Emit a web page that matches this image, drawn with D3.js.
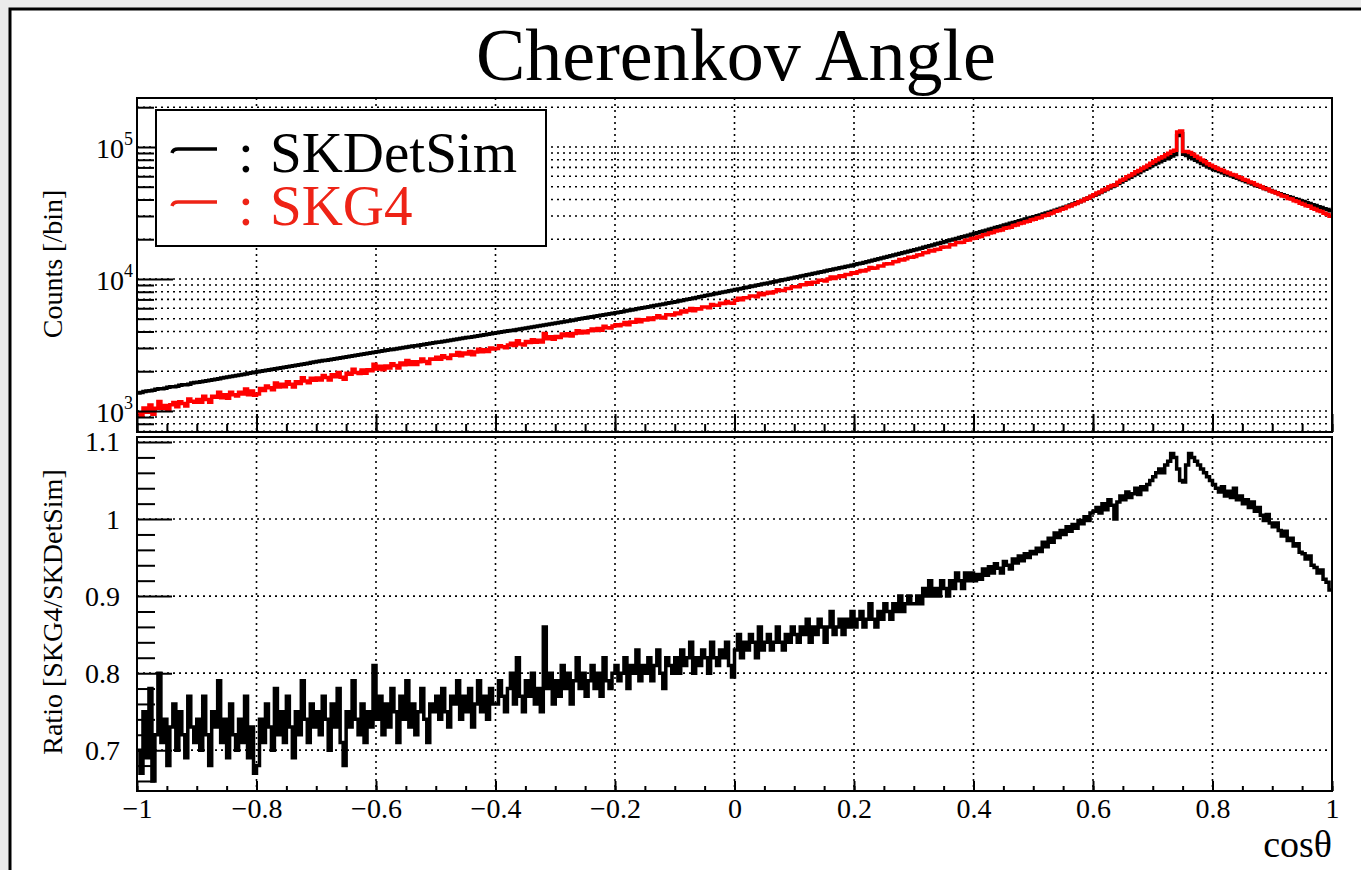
<!DOCTYPE html>
<html>
<head>
<meta charset="utf-8">
<script src="https://cdn.jsdelivr.net/npm/d3@7"></script>
<style>
  body { margin: 0; background: #ebebeb; }
  svg { display: block; }
  text { font-family: "Liberation Serif", "Times New Roman", serif; }
</style>
</head>
<body>
<svg id="chart" width="1361" height="870"></svg>
<script>
// 400 bins in cos(theta), from -1 to 1
const binLow = -1, binWidth = 0.005;

// SKDetSim counts per bin
const skdetsim = [
  1369, 1381, 1404, 1416, 1422, 1434, 1459, 1473, 1473, 1487, 1513, 1527, 1525, 1539, 1568, 1582, 1583, 1597, 1626, 1640,
  1649, 1663, 1679, 1695, 1710, 1726, 1742, 1758, 1774, 1790, 1807, 1823, 1841, 1857, 1875, 1891, 1909, 1927, 1945, 1963,
  1981, 1999, 2017, 2035, 2053, 2071, 2090, 2108, 2127, 2147, 2165, 2185, 2204, 2224, 2244, 2264, 2284, 2304, 2325, 2345,
  2366, 2386, 2407, 2427, 2448, 2470, 2491, 2513, 2535, 2557, 2579, 2601, 2624, 2646, 2669, 2693, 2716, 2740, 2763, 2787,
  2810, 2834, 2857, 2881, 2904, 2928, 2952, 2976, 3001, 3025, 3050, 3076, 3100, 3126, 3152, 3178, 3204, 3230, 3257, 3283,
  3309, 3337, 3365, 3393, 3421, 3449, 3479, 3507, 3536, 3566, 3595, 3625, 3656, 3686, 3717, 3747, 3778, 3810, 3842, 3874,
  3907, 3941, 3975, 4009, 4045, 4079, 4114, 4150, 4186, 4222, 4259, 4295, 4333, 4371, 4409, 4447, 4486, 4524, 4563, 4603,
  4645, 4687, 4728, 4770, 4812, 4856, 4899, 4943, 4986, 5032, 5076, 5122, 5167, 5213, 5259, 5307, 5354, 5402, 5449, 5499,
  5548, 5602, 5657, 5711, 5767, 5823, 5880, 5936, 5994, 6052, 6110, 6170, 6230, 6290, 6351, 6413, 6476, 6538, 6602, 6666,
  6735, 6805, 6878, 6950, 7023, 7097, 7172, 7248, 7325, 7401, 7480, 7558, 7638, 7718, 7800, 7882, 7965, 8049, 8134, 8220,
  8306, 8394, 8485, 8575, 8668, 8760, 8855, 8949, 9046, 9142, 9241, 9339, 9441, 9541, 9645, 9747, 9853, 9957, 10065, 10173,
  10290, 10404, 10520, 10636, 10755, 10873, 10994, 11116, 11240, 11364, 11490, 11618, 11747, 11877, 12009, 12141, 12277, 12413, 12551, 12689,
  12845, 13013, 13181, 13353, 13525, 13701, 13877, 14059, 14240, 14426, 14611, 14803, 14993, 15189, 15384, 15586, 15786, 15992, 16198, 16410,
  16638, 16876, 17116, 17360, 17607, 17859, 18112, 18372, 18632, 18898, 19167, 19441, 19717, 19999, 20283, 20573, 20865, 21163, 21464, 21770,
  22092, 22422, 22757, 23097, 23442, 23792, 24148, 24508, 24875, 25245, 25623, 26005, 26394, 26788, 27188, 27594, 28007, 28425, 28850, 29280,
  29627, 30088, 30556, 31039, 31536, 32049, 32578, 33123, 33685, 34264, 34901, 35566, 36261, 36983, 37740, 38531, 39355, 40217, 41115, 42054,
  43063, 44116, 45214, 46361, 47561, 48812, 50119, 51475, 52880, 54335, 55857, 57424, 59033, 60687, 62387, 64135, 65932, 67780, 69679, 71631,
  73536, 75456, 77410, 79393, 81407, 83456, 85507, 87498, 122000, 126000, 88000, 86200, 83700, 81500, 79200, 77100, 74900, 73000, 70800, 69150,
  67700, 66270, 65120, 63720, 62610, 61270, 60220, 58920, 57900, 56660, 55680, 54480, 53550, 52390, 51480, 50380, 49510, 48450, 47700, 46720,
  45970, 45030, 44300, 43400, 42790, 41930, 41340, 40520, 39940, 39140, 38580, 37800, 37270, 36530, 36010, 35290, 34790, 34090, 33610, 32930
];

// SKG4 / SKDetSim per bin
const ratio = [
  0.70, 0.67, 0.75, 0.69, 0.78, 0.66, 0.72, 0.80, 0.71, 0.74, 0.68, 0.73, 0.76, 0.70, 0.75, 0.72, 0.69, 0.77, 0.73, 0.71,
  0.74, 0.70, 0.77, 0.72, 0.68, 0.75, 0.73, 0.79, 0.71, 0.74, 0.69, 0.76, 0.72, 0.70, 0.74, 0.71, 0.77, 0.69, 0.73, 0.67,
  0.68, 0.74, 0.71, 0.76, 0.73, 0.70, 0.78, 0.72, 0.75, 0.71, 0.77, 0.73, 0.69, 0.75, 0.72, 0.79, 0.74, 0.71, 0.76, 0.73,
  0.75, 0.72, 0.77, 0.74, 0.70, 0.76, 0.73, 0.78, 0.71, 0.68, 0.75, 0.73, 0.79, 0.74, 0.72, 0.76, 0.71, 0.75, 0.73, 0.81,
  0.74, 0.77, 0.72, 0.76, 0.73, 0.78, 0.75, 0.71, 0.77, 0.74, 0.79, 0.73, 0.76, 0.72, 0.75, 0.78, 0.74, 0.71, 0.76, 0.75,
  0.77, 0.74, 0.78, 0.75, 0.73, 0.77, 0.76, 0.79, 0.74, 0.77, 0.75, 0.78, 0.73, 0.76, 0.79, 0.75, 0.77, 0.74, 0.78, 0.76,
  0.76, 0.79, 0.77, 0.75, 0.78, 0.80, 0.76, 0.82, 0.77, 0.75, 0.79, 0.77, 0.80, 0.76, 0.78, 0.75, 0.86, 0.78, 0.80, 0.76,
  0.79, 0.77, 0.81, 0.78, 0.80, 0.76, 0.79, 0.82, 0.78, 0.80, 0.77, 0.79, 0.81, 0.78, 0.80, 0.77, 0.82, 0.79, 0.78, 0.80,
  0.81, 0.79, 0.80, 0.82, 0.78, 0.81, 0.80, 0.83, 0.79, 0.81, 0.80, 0.82, 0.79, 0.81, 0.83, 0.80, 0.78, 0.82, 0.81, 0.80,
  0.82, 0.80, 0.83, 0.81, 0.82, 0.84, 0.80, 0.82, 0.81, 0.83, 0.82, 0.80, 0.84, 0.82, 0.81, 0.83, 0.82, 0.84, 0.81, 0.795,
  0.83, 0.85, 0.82, 0.84, 0.83, 0.85, 0.84, 0.82, 0.86, 0.83, 0.84, 0.85, 0.83, 0.84, 0.86, 0.84, 0.83, 0.85, 0.84, 0.86,
  0.85, 0.84, 0.86, 0.85, 0.87, 0.84, 0.86, 0.85, 0.87, 0.86, 0.84, 0.86, 0.88, 0.85, 0.86, 0.87, 0.85, 0.87, 0.86, 0.88,
  0.86, 0.87, 0.88, 0.86, 0.87, 0.89, 0.87, 0.86, 0.88, 0.87, 0.89, 0.88, 0.87, 0.89, 0.88, 0.90, 0.88, 0.89, 0.90, 0.89,
  0.89, 0.90, 0.89, 0.91, 0.90, 0.92, 0.90, 0.91, 0.90, 0.92, 0.91, 0.90, 0.92, 0.91, 0.93, 0.92, 0.91, 0.93, 0.92, 0.93,
  0.92, 0.928, 0.922, 0.935, 0.927, 0.938, 0.93, 0.942, 0.936, 0.93, 0.945, 0.94, 0.935, 0.948, 0.943, 0.952, 0.946, 0.955, 0.95, 0.958,
  0.955, 0.962, 0.958, 0.97, 0.964, 0.975, 0.97, 0.982, 0.976, 0.985, 0.98, 0.99, 0.984, 0.993, 0.988, 0.998, 0.994, 1.003, 0.998, 1.008,
  1.01, 1.015, 1.008, 1.02, 1.012, 1.025, 1.018, 1.0, 1.022, 1.03, 1.025, 1.035, 1.028, 1.033, 1.04, 1.032, 1.042, 1.038, 1.045, 1.05,
  1.055, 1.06, 1.065, 1.06, 1.07, 1.075, 1.085, 1.08, 1.065, 1.05, 1.048, 1.07, 1.085, 1.08, 1.075, 1.07, 1.065, 1.06, 1.055, 1.05,
  1.045, 1.04, 1.035, 1.042, 1.03, 1.036, 1.028, 1.04, 1.025, 1.03, 1.02, 1.025, 1.015, 1.022, 1.01, 1.015, 1.005, 0.998, 1.006, 0.995,
  0.99, 0.995, 0.985, 0.978, 0.984, 0.972, 0.975, 0.965, 0.968, 0.957, 0.955, 0.948, 0.952, 0.94, 0.937, 0.93, 0.934, 0.922, 0.918, 0.908
];

// SKG4 counts follow from the two above
const skg4 = skdetsim.map((v, i) => v * ratio[i]);

const xMajorTicks = [-1, -0.8, -0.6, -0.4, -0.2, 0, 0.2, 0.4, 0.6, 0.8, 1];
const countMajorTicks = [1e3, 1e4, 1e5];
const ratioMajorTicks = [0.7, 0.8, 0.9, 1, 1.1];
const legendLabels = ["SKDetSim", "SKG4"];
const legendColors = ["#000000", "#ee2316"];
const lineColors = ["#000000", "#ff0000"];

const svg = d3.select("#chart");
const font = '"Liberation Serif", "Times New Roman", serif';

// canvas frame
svg.append("rect")
  .attr("x", 10).attr("y", 9)
  .attr("width", 1400).attr("height", 900)
  .attr("fill", "#fff").attr("stroke", "#000").attr("stroke-width", 3);

const padTop = { left: 137, right: 1332, top: 98, bottom: 432 };
const padBot = { left: 137, right: 1332, top: 437, bottom: 791 };

const x = d3.scaleLinear().domain([-1, 1]).range([padTop.left, padTop.right]);
const yTop = d3.scaleLog().domain([693, 234900]).range([padTop.bottom, padTop.top]);
const yBot = d3.scaleLinear().domain([0.647, 1.1065]).range([padBot.bottom, padBot.top]);

const xMinor = x.ticks(40);
const logTicks = yTop.ticks();

svg.append("text")
  .attr("x", 736).attr("y", 80)
  .attr("text-anchor", "middle")
  .attr("font-size", 74)
  .text("Cherenkov Angle");

function dotted(g, lines) {
  g.selectAll("line.grid").data(lines).enter().append("line")
    .attr("class", "grid")
    .attr("x1", d => d[0]).attr("y1", d => d[1])
    .attr("x2", d => d[2]).attr("y2", d => d[3])
    .attr("stroke", "#000").attr("stroke-width", 1.6)
    .attr("stroke-dasharray", "2,4");
}

function histPath(values, yScale) {
  const pts = values.map((v, i) => [binLow + i * binWidth, v]);
  pts.push([binLow + values.length * binWidth, values[values.length - 1]]);
  return d3.line()
    .x(d => x(d[0]))
    .y(d => yScale(d[1]))
    .curve(d3.curveStepAfter)(pts);
}

function fmtX(d) {
  if (d === 0) return "0";
  return (d < 0 ? "\u2212" : "") + Math.abs(d);
}

// ---------- top panel ----------
const gTop = svg.append("g");
const innerX = xMajorTicks.filter(d => d > -1 && d < 1);

dotted(gTop, innerX.map(d => [x(d), padTop.top, x(d), padTop.bottom])
  .concat(logTicks.map(d => [padTop.left, yTop(d), padTop.right, yTop(d)])));

svg.append("clipPath").attr("id", "clipTop")
  .append("rect").attr("x", padTop.left).attr("y", padTop.top)
  .attr("width", padTop.right - padTop.left).attr("height", padTop.bottom - padTop.top);

[skdetsim, skg4].forEach((series, k) => {
  gTop.append("path")
    .attr("d", histPath(series, yTop))
    .attr("clip-path", "url(#clipTop)")
    .attr("fill", "none")
    .attr("stroke", lineColors[k])
    .attr("stroke-width", 3.5);
});

// minor log ticks
gTop.append("g")
  .attr("transform", `translate(${padTop.left},0)`)
  .call(d3.axisLeft(yTop).tickValues(logTicks.filter(d => !countMajorTicks.includes(d)))
    .tickSize(-17).tickFormat(""))
  .call(g => g.select(".domain").remove())
  .call(g => g.selectAll("line").attr("stroke-width", 2));

const yAxisTop = gTop.append("g")
  .attr("transform", `translate(${padTop.left},0)`)
  .call(d3.axisLeft(yTop).tickValues(countMajorTicks).tickSize(-36).tickPadding(4).tickFormat(""))
  .call(g => g.select(".domain").remove())
  .call(g => g.selectAll("line").attr("stroke-width", 2));

yAxisTop.selectAll(".tick text")
  .attr("font-family", font).attr("font-size", 28).attr("fill", "#000")
  .attr("dy", "0.36em")
  .each(function(d) {
    const t = d3.select(this);
    t.append("tspan").text("10");
    t.append("tspan").attr("font-size", 18).attr("dy", "-0.7em").text(Math.round(Math.log10(d)));
  });

gTop.append("g")
  .attr("transform", `translate(0,${padTop.bottom})`)
  .call(d3.axisBottom(x).tickValues(xMinor).tickSize(-8).tickFormat(""))
  .call(g => g.select(".domain").remove())
  .call(g => g.selectAll("line").attr("stroke-width", 2));
gTop.append("g")
  .attr("transform", `translate(0,${padTop.bottom})`)
  .call(d3.axisBottom(x).tickValues(xMajorTicks).tickSize(-18).tickFormat(""))
  .call(g => g.select(".domain").remove())
  .call(g => g.selectAll("line").attr("stroke-width", 2));

gTop.append("rect")
  .attr("x", padTop.left).attr("y", padTop.top)
  .attr("width", padTop.right - padTop.left).attr("height", padTop.bottom - padTop.top)
  .attr("fill", "none").attr("stroke", "#000").attr("stroke-width", 2);

svg.append("text")
  .attr("transform", "translate(62,264) rotate(-90)")
  .attr("text-anchor", "middle").attr("font-size", 28)
  .text("Counts [/bin]");

// legend: one text block, one line per entry
const legend = svg.append("g");
legend.append("rect")
  .attr("x", 156).attr("y", 110).attr("width", 390).attr("height", 136)
  .attr("fill", "#fff").attr("stroke", "#000").attr("stroke-width", 2);
const legendText = legend.append("text").attr("font-size", 57);
legendLabels.forEach((label, i) => {
  const base = 172 + i * 53;
  legend.append("path")
    .attr("d", `M172,${base - 19} Q173,${base - 23} 178,${base - 23} L217,${base - 23}`)
    .attr("fill", "none").attr("stroke", legendColors[i]).attr("stroke-width", 3.5);
  legendText.append("tspan").attr("x", 238).attr("y", base).attr("fill", legendColors[i]).text(":");
  legendText.append("tspan").attr("x", 270).attr("y", base).attr("fill", legendColors[i]).text(label);
});

// ---------- ratio panel ----------
const gBot = svg.append("g");
dotted(gBot, innerX.map(d => [x(d), padBot.top, x(d), padBot.bottom])
  .concat(ratioMajorTicks.map(d => [padBot.left, yBot(d), padBot.right, yBot(d)])));

svg.append("clipPath").attr("id", "clipBot")
  .append("rect").attr("x", padBot.left).attr("y", padBot.top)
  .attr("width", padBot.right - padBot.left).attr("height", padBot.bottom - padBot.top);

gBot.append("path")
  .attr("d", histPath(ratio, yBot))
  .attr("clip-path", "url(#clipBot)")
  .attr("fill", "none").attr("stroke", "#000").attr("stroke-width", 3.5);

gBot.append("g")
  .attr("transform", `translate(${padBot.left},0)`)
  .call(d3.axisLeft(yBot).tickValues(yBot.ticks(25).filter(d => !ratioMajorTicks.some(m => Math.abs(m - d) < 1e-6)))
    .tickSize(-18).tickFormat(""))
  .call(g => g.select(".domain").remove())
  .call(g => g.selectAll("line").attr("stroke-width", 2));
gBot.append("g")
  .attr("transform", `translate(${padBot.left},0)`)
  .call(d3.axisLeft(yBot).tickValues(ratioMajorTicks).tickSize(-35).tickPadding(17)
    .tickFormat(d => d === 1 ? "1" : String(d)))
  .call(g => g.select(".domain").remove())
  .call(g => g.selectAll("line").attr("stroke-width", 2))
  .call(g => g.selectAll("text").attr("font-family", font).attr("font-size", 28).attr("fill", "#000"));

gBot.append("g")
  .attr("transform", `translate(0,${padBot.bottom})`)
  .call(d3.axisBottom(x).tickValues(xMinor).tickSize(-5).tickFormat(""))
  .call(g => g.select(".domain").remove())
  .call(g => g.selectAll("line").attr("stroke-width", 2));
gBot.append("g")
  .attr("transform", `translate(0,${padBot.bottom})`)
  .call(d3.axisBottom(x).tickValues(xMajorTicks).tickSize(-10).tickPadding(7).tickFormat(fmtX))
  .call(g => g.select(".domain").remove())
  .call(g => g.selectAll("line").attr("stroke-width", 2))
  .call(g => g.selectAll("text").attr("font-family", font).attr("font-size", 28).attr("fill", "#000"));

gBot.append("rect")
  .attr("x", padBot.left).attr("y", padBot.top)
  .attr("width", padBot.right - padBot.left).attr("height", padBot.bottom - padBot.top)
  .attr("fill", "none").attr("stroke", "#000").attr("stroke-width", 2);

svg.append("text")
  .attr("transform", "translate(62,612) rotate(-90)")
  .attr("text-anchor", "middle").attr("font-size", 28)
  .text("Ratio [SKG4/SKDetSim]");

svg.append("text")
  .attr("x", 1332).attr("y", 857)
  .attr("text-anchor", "end").attr("font-size", 38)
  .text("cos\u03b8");
</script>
</body>
</html>
